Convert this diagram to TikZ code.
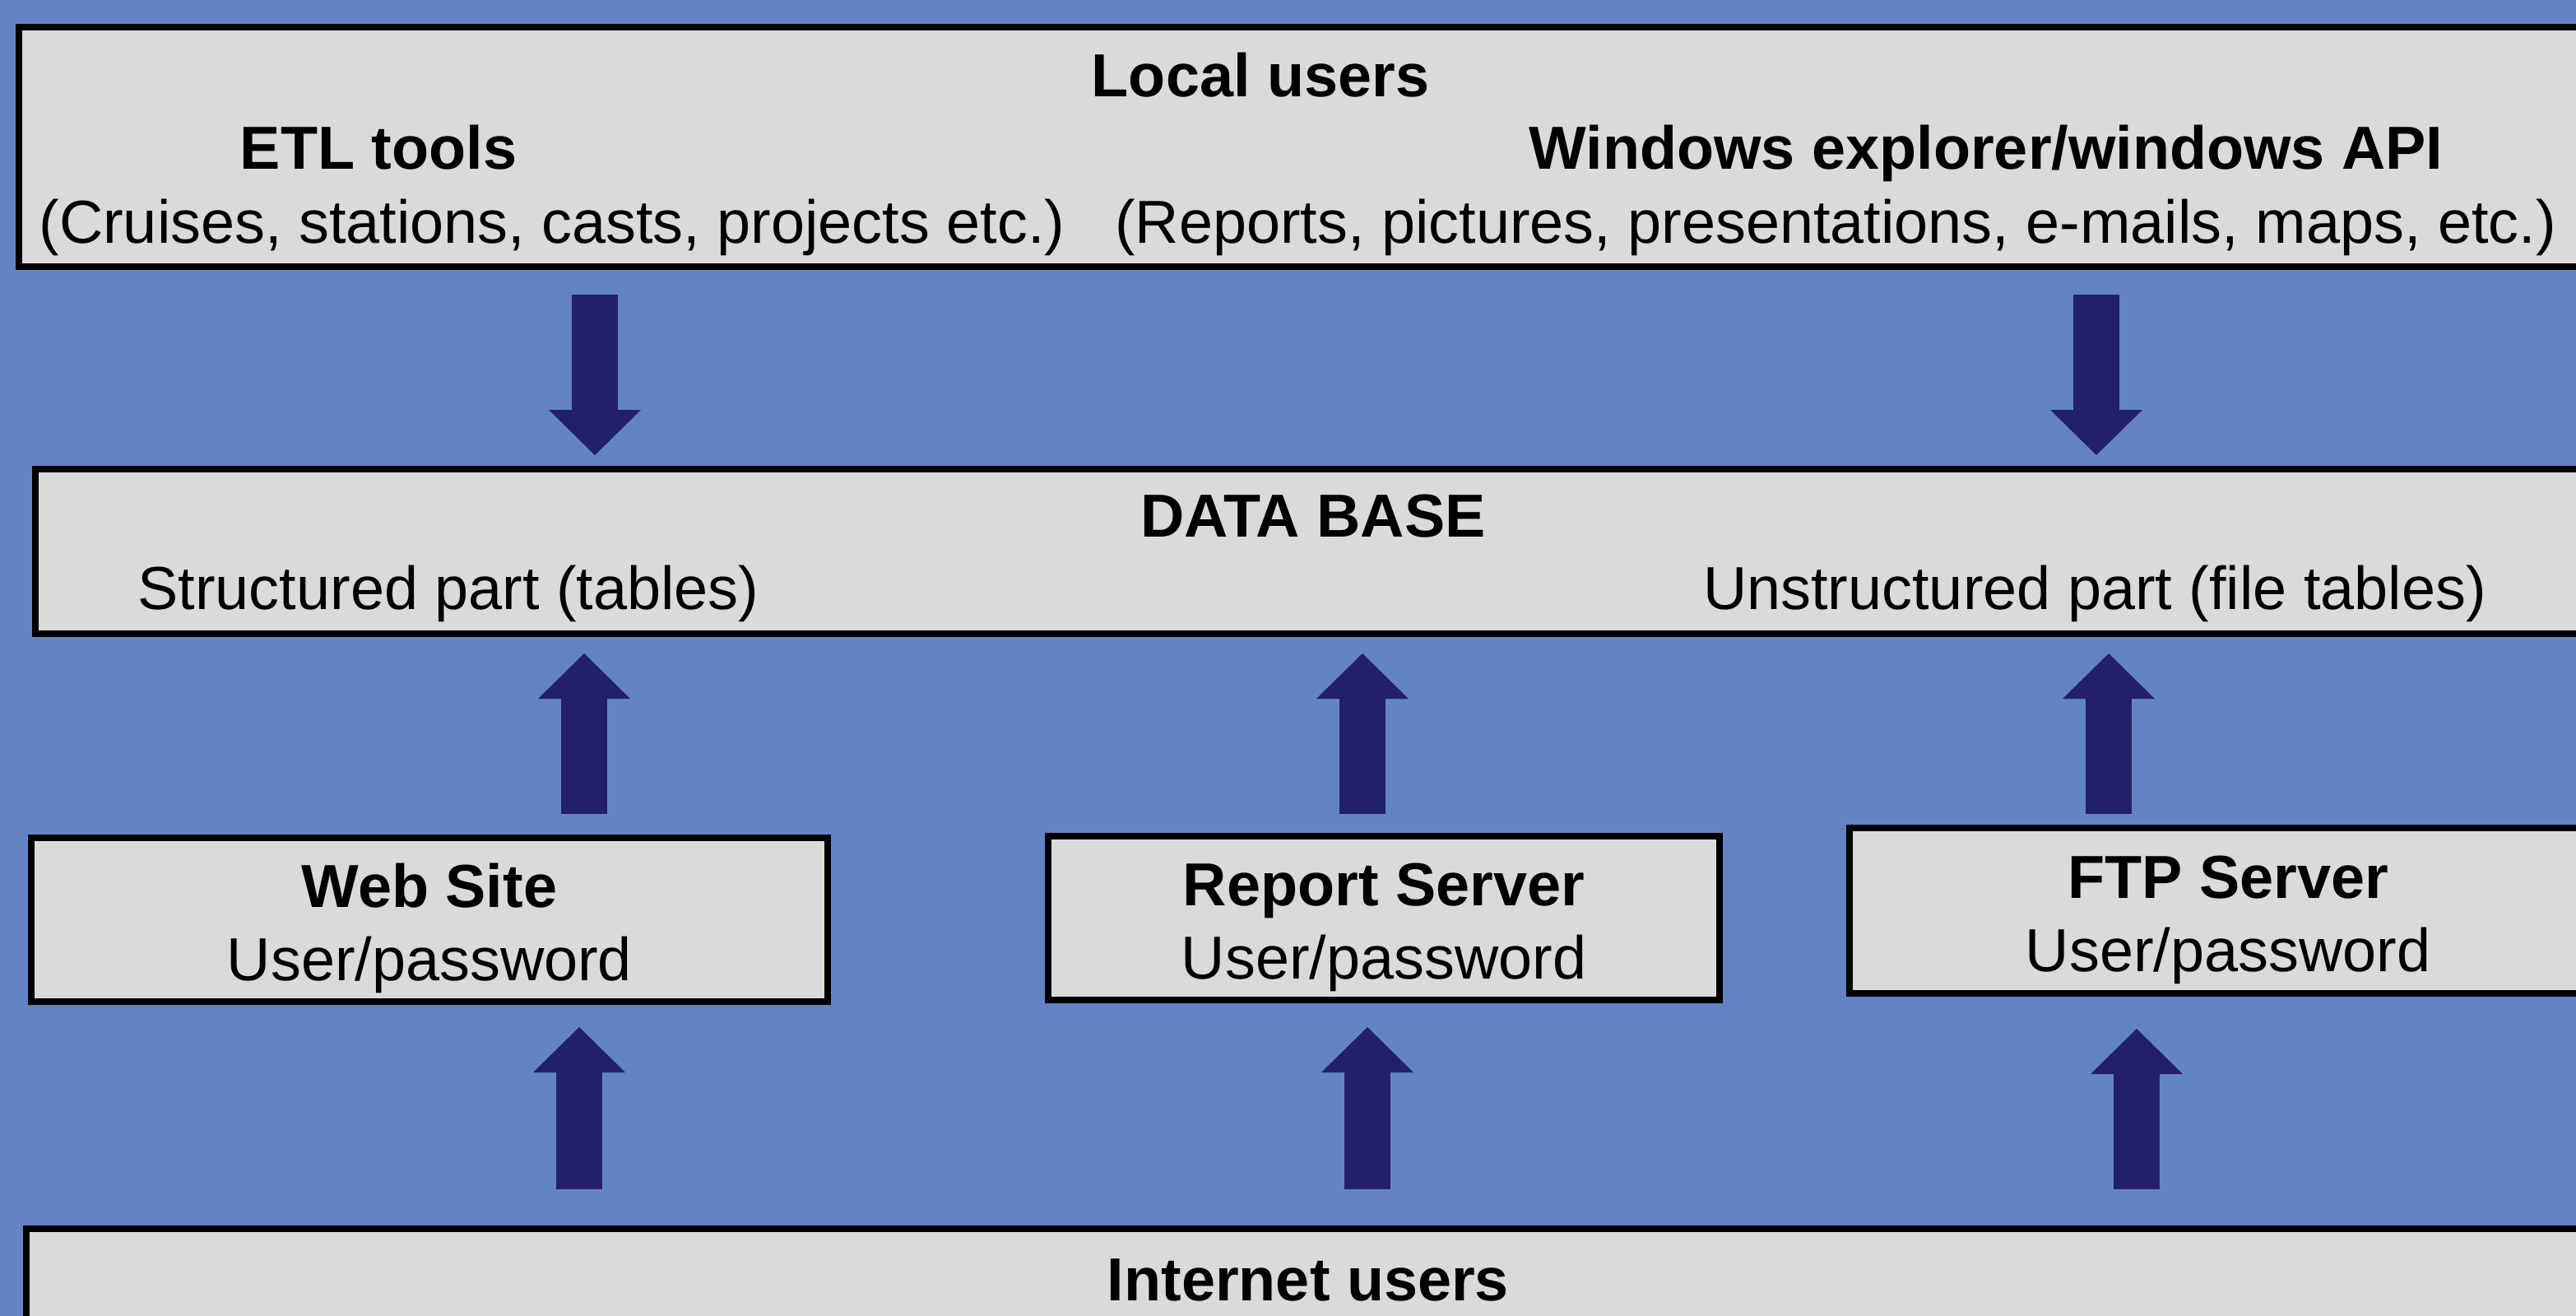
\documentclass[tikz,border=0pt]{standalone}
\usepackage{fontspec}
\setmainfont{Liberation Sans}
\usetikzlibrary{arrows.meta}
\definecolor{cloth}{RGB}{98,132,196}
\definecolor{panelgray}{RGB}{218,218,218}
\definecolor{arrowblue}{RGB}{36,32,104}

\begin{document}
\begin{tikzpicture}[
  panel/.style={rectangle, draw=black, line width=0.08cm, fill=panelgray, inner sep=0pt, outer sep=0pt, anchor=north west},
  txt/.style={font=\fontsize{21}{25.5}\selectfont, anchor=base, inner sep=0pt},
  head/.style={txt, font=\fontsize{21}{25.5}\selectfont\bfseries},
  server/.style={panel, align=center, font=\fontsize{21}{25.5}\selectfont},
  flow/.style={line width=0.56cm, color=arrowblue, -{Triangle[width=1.12cm, length=0.55cm, line width=0pt]}}
]
\useasboundingbox (0,0) rectangle (31.31,-15.99);
\fill[cloth] (0,0) rectangle (31.31,-15.99); % backdrop

% local users
\node[panel, minimum width=31.40cm, minimum height=2.91cm] (Top) at (0.23,-0.33) {};
\node[head] (Local) at (15.32,-1.17) {Local users};
\node[head] (Etl) at (4.60,-2.05) {ETL tools};
\node[head] (Win) at (24.14,-2.05) {Windows explorer/windows API};
\node[txt] (EtlNote) at (6.71,-2.95) {(Cruises, stations, casts, projects etc.)};
\node[txt] (WinNote) at (22.31,-2.95) {(Reports, pictures, presentations, e-mails, maps, etc.)};

% data base
\node[panel, minimum width=31.20cm, minimum height=2.00cm] (Base) at (0.43,-5.70) {};
\node[head] (DbTitle) at (15.96,-6.52) {DATA BASE};
\node[txt] (Struct) at (5.45,-7.40) {Structured part (tables)};
\node[txt] (Unstruct) at (25.46,-7.40) {Unstructured part (file tables)};

% servers (the strut drops the two lines a little)
\node[server, minimum width=9.68cm, minimum height=1.99cm] (Web) at (0.38,-10.18) {\rule{0pt}{0.74cm}\textbf{Web Site}\\User/password};
\node[server, minimum width=8.16cm, minimum height=1.99cm] (Report) at (12.74,-10.16) {\rule{0pt}{0.74cm}\textbf{Report Server}\\User/password};
\node[server, minimum width=9.20cm, minimum height=2.01cm] (FTP) at (22.48,-10.06) {\rule{0pt}{0.74cm}\textbf{FTP Server}\\User/password};

% internet users
\node[panel, minimum width=31.30cm, minimum height=1.50cm] (Net) at (0.32,-14.93) {};
\node[head] (NetTitle) at (15.90,-15.80) {Internet users};

\foreach \x in {7.23,25.48} \draw[flow, shorten <=0.34cm, shorten >=0.17cm] (\x,0 |- Top.south) -- (\x,0 |- Base.north);
\foreach \x/\n/\g in {7.10/Web/0.29,16.56/Report/0.27,25.63/FTP/0.17} \draw[flow, shorten <=\g cm, shorten >=0.24cm] (\x,0 |- \n.north) -- (\x,0 |- Base.south);
\foreach \x/\n/\g in {7.04/Web/0.31,16.62/Report/0.33,25.97/FTP/0.43} \draw[flow, shorten <=0.48cm, shorten >=\g cm] (\x,0 |- Net.north) -- (\x,0 |- \n.south);
\end{tikzpicture}
\end{document}
